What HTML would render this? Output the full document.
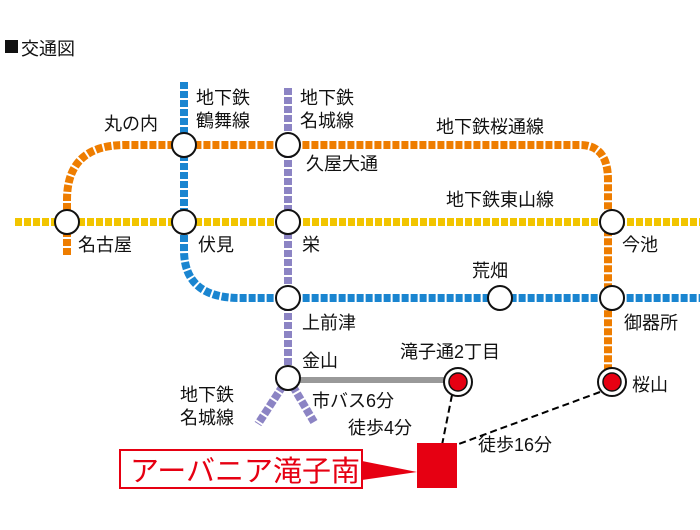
<!DOCTYPE html>
<html><head><meta charset="utf-8"><style>
body{margin:0;background:#fff;width:700px;height:525px;overflow:hidden}
svg text{font-family:"Liberation Sans","Noto Sans CJK JP",sans-serif;fill:#111}
</style></head><body>
<svg width="700" height="525" xmlns="http://www.w3.org/2000/svg">
<rect x="5" y="40" width="13" height="13" fill="#111"/>
<text x="21" y="55" font-size="18">交通図</text>
<g fill="none" stroke-width="8" stroke-dasharray="7 2">
<path d="M15 222 H700" stroke="#f2c500"/>
<path d="M67 255 V200 Q67 145 125 145 H580 Q608 145 608 180 V380" stroke="#ee7d00"/>
<path d="M184 82 V250 Q184 298 240 298 H700" stroke="#1a85d0"/>
<path d="M288 88 V378 M288 378 L258 424 M288 378 L314 422" stroke="#8c84c4"/>
</g>
<line x1="288" y1="380" x2="452" y2="380" stroke="#999" stroke-width="6"/>
<g stroke="#000" stroke-width="2" stroke-dasharray="7 4" fill="none">
<line x1="452" y1="395" x2="442" y2="445"/>
<line x1="600" y1="392" x2="456" y2="445"/>
</g>
<g fill="#fff" stroke="#111" stroke-width="2">
<circle cx="184" cy="145" r="12"/><circle cx="288" cy="145" r="12"/>
<circle cx="67" cy="222" r="12"/><circle cx="184" cy="222" r="12"/>
<circle cx="288" cy="222" r="12"/><circle cx="612" cy="222" r="12"/>
<circle cx="288" cy="298" r="12"/><circle cx="500" cy="298" r="12"/>
<circle cx="612" cy="298" r="12"/><circle cx="288" cy="378" r="12"/>
<circle cx="458" cy="382" r="14"/><circle cx="612" cy="382" r="14"/>
</g>
<circle cx="458" cy="382" r="9" fill="#e60012" stroke="#111" stroke-width="1.5"/>
<circle cx="612" cy="382" r="9" fill="#e60012" stroke="#111" stroke-width="1.5"/>
<g font-size="18">
<text x="196" y="104">地下鉄</text><text x="196" y="127">鶴舞線</text>
<text x="300" y="104">地下鉄</text><text x="300" y="127">名城線</text>
<text x="104" y="130">丸の内</text>
<text x="306" y="170">久屋大通</text>
<text x="436" y="133">地下鉄桜通線</text>
<text x="446" y="206">地下鉄東山線</text>
<text x="78" y="251">名古屋</text>
<text x="198" y="251">伏見</text>
<text x="302" y="251">栄</text>
<text x="622" y="251">今池</text>
<text x="472" y="277">荒畑</text>
<text x="302" y="329">上前津</text>
<text x="624" y="329">御器所</text>
<text x="302" y="367">金山</text>
<text x="400" y="358">滝子通2丁目</text>
<text x="632" y="391">桜山</text>
<text x="180" y="401">地下鉄</text><text x="180" y="424">名城線</text>
<text x="312" y="407">市バス6分</text>
<text x="348" y="434">徒歩4分</text>
<text x="478" y="451">徒歩16分</text>
</g>
<rect x="417" y="443" width="40" height="45" fill="#e60012"/>
<polygon points="362,461 417,472 362,480" fill="#e60012"/>
<rect x="120" y="450" width="242" height="38" fill="#fff" stroke="#e60012" stroke-width="2"/>
<text x="130" y="481" font-size="29" style="fill:#e60012">アーバニア滝子南</text>
</svg>
</body></html>
